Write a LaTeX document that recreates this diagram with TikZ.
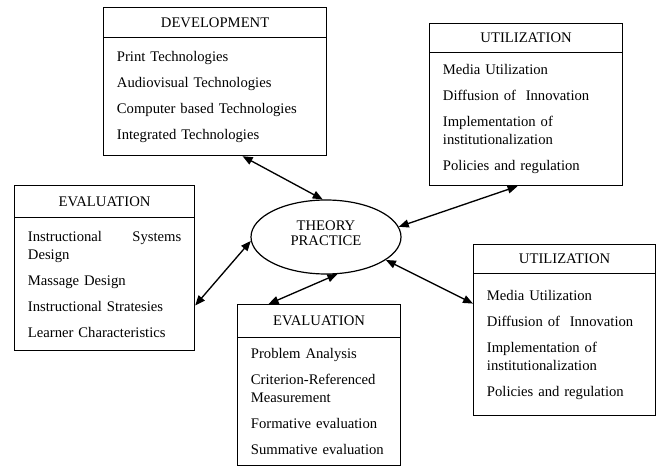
\documentclass[tikz,border=0pt]{standalone}
\usepackage{fontspec}
\setmainfont{Liberation Serif}
\usetikzlibrary{shapes.geometric,arrows.meta}

\tikzset{
  head/.style={draw, line width=0.9pt, anchor=north west, inner sep=0pt,
    font=\fontsize{11}{13}\selectfont},
  body/.style={draw, line width=0.9pt, anchor=north west, inner xsep=10pt,
    inner ysep=4pt, align=left, font=\fontsize{11}{13.5}\selectfont},
  link/.style={line width=1pt,
    {Triangle[length=7.5pt,width=6pt]}-{Triangle[length=7.5pt,width=6pt]}},
}

\begin{document}
\begin{tikzpicture}[x=0.75pt,y=-0.75pt]
  \useasboundingbox (0,0) rectangle (656,466);

  % centre
  \node[ellipse, draw, line width=0.9pt, minimum width=112.5pt, minimum height=55.5pt,
    inner sep=0pt, text depth=6pt, align=center, font=\fontsize{11}{11.5}\selectfont]
    (theory) at (326,237) {THEORY\\PRACTICE};

  % development
  \node[head, minimum width=167.25pt, minimum height=22.5pt] (devh) at (103,7) {DEVELOPMENT};
  \node[body, text width=147.25pt, minimum height=88.5pt] (devb) at (103,37)
    {Print Technologies\\[6pt]
     Audiovisual Technologies\\[6pt]
     Computer based Technologies\\[6pt]
     Integrated Technologies};

  % utilization, upper right
  \node[head, minimum width=144.75pt, minimum height=21.75pt] (utilah) at (429,23) {UTILIZATION};
  \node[body, text width=124.75pt, minimum height=99.75pt] (utilab) at (429,52)
    {Media Utilization\\[6pt]
     Diffusion of\ \ Innovation\\[6pt]
     Implementation of\\
     institutionalization\\[6pt]
     Policies and regulation};

  % evaluation, left
  \node[head, minimum width=135pt, minimum height=24pt] (evalah) at (14,185) {EVALUATION};
  \node[body, text width=115pt, minimum height=99.75pt] (evalab) at (14,217)
    {Instructional\hfill Systems\\
     Design\\[6pt]
     Massage Design\\[6pt]
     Instructional Stratesies\\[6pt]
     Learner Characteristics};

  % evaluation, bottom
  \node[head, minimum width=122.25pt, minimum height=24.75pt] (evalbh) at (237,304) {EVALUATION};
  \node[body, text width=102.25pt, minimum height=96pt] (evalbb) at (237,337)
    {Problem Analysis\\[6pt]
     Criterion-Referenced\\
     Measurement\\[6pt]
     Formative evaluation\\[6pt]
     Summative evaluation};

  % utilization, lower right
  \node[head, minimum width=136.5pt, minimum height=21.75pt] (utilbh) at (473,244) {UTILIZATION};
  \node[body, text width=116.5pt, minimum height=106.5pt] (utilbb) at (473,273)
    {Media Utilization\\[6pt]
     Diffusion of\ \ Innovation\\[6pt]
     Implementation of\\
     institutionalization\\[6pt]
     Policies and regulation};

  % links to the centre
  \draw[link] ([xshift=20.6pt]devb.south) -- (theory.95);
  \draw[link] ([xshift=-6.4pt]utilab.south) -- (theory.8);
  \draw[link] ([yshift=-16pt]evalab.east) -- (theory.183);
  \draw[link] ([xshift=-37.9pt]evalbh.north) -- (theory.287);
  \draw[link] (theory.339) -- ([yshift=30.75pt]utilbb.west);
\end{tikzpicture}
\end{document}
